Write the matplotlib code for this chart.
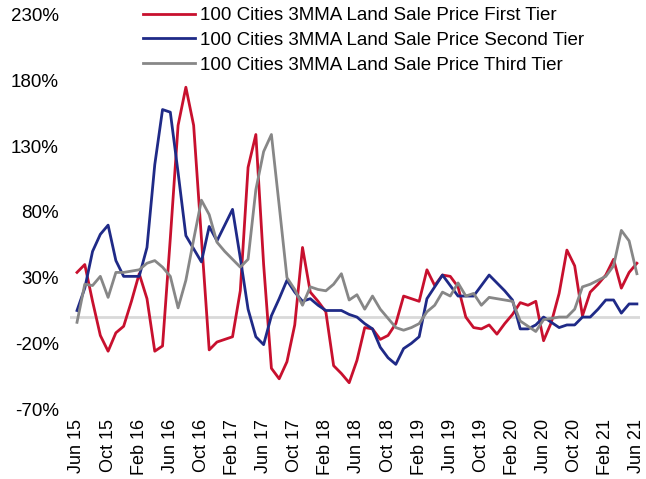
import numpy as np
import matplotlib
matplotlib.use("Agg")
import matplotlib.pyplot as plt
from matplotlib.ticker import FuncFormatter

plt.rcParams['font.family'] = ['Liberation Sans', 'DejaVu Sans']

# monthly values, Jun 15 .. Jun 21 (%)
first_tier = [34, 40, 12, -14, -26, -12, -7, 12, 33, 14, -26, -22,
              60, 146, 175, 146, 60, -25, -19, -17, -15, 20, 114, 139,
              40, -39, -47, -34, -6, 53, 19, 12, 4, -37, -43, -50,
              -33, -8, -9, -17, -14, -5, 16, 14, 12, 36, 24, 32,
              31, 23, 0, -8, -9, -6, -13, -5, 2, 11, 9, 12,
              -18, -4, 18, 51, 39, 1, 19, 25, 32, 44, 22, 34, 41]
second_tier = [5, 22, 50, 63, 70, 43, 31, 31, 31, 53, 116, 158,
               156, 110, 62, 52, 42, 69, 58, 70, 82, 45, 6, -15,
               -21, 1, 14, 28, 19, 12, 14, 9, 5, 5, 5, 2,
               0, -5, -9, -23, -31, -36, -24, -20, -15, 14, 23, 32,
               24, 16, 16, 16, 24, 32, 26, 20, 13, -9, -9, -6,
               0, -4, -8, -6, -6, 0, 0, 6, 13, 13, 3, 10, 10]
third_tier = [-4, 25, 24, 31, 15, 34, 34, 35, 36, 41, 43, 38,
              31, 7, 28, 59, 89, 78, 57, 50, 44, 38, 44, 97,
              126, 139, 85, 30, 21, 9, 23, 21, 20, 25, 33, 13,
              17, 6, 16, 6, -1, -8, -10, -8, -5, 4, 9, 19,
              16, 26, 16, 18, 9, 15, 14, 13, 12, -3, -7, -11,
              -2, -1, 0, 0, 6, 23, 25, 28, 31, 39, 66, 58, 33]

tick_labels = ["Jun 15", "Oct 15", "Feb 16", "Jun 16", "Oct 16", "Feb 17",
               "Jun 17", "Oct 17", "Feb 18", "Jun 18", "Oct 18", "Feb 19",
               "Jun 19", "Oct 19", "Feb 20", "Jun 20", "Oct 20", "Feb 21",
               "Jun 21"]
y_ticks = [-70, -20, 30, 80, 130, 180, 230]

labels = ["100 Cities 3MMA Land Sale Price First Tier",
          "100 Cities 3MMA Land Sale Price Second Tier",
          "100 Cities 3MMA Land Sale Price Third Tier"]
colors = ["#C8102E", "#1F2A87", "#878787"]
fs = 13.5

W, H = 646, 479
fig = plt.figure(figsize=(W / 100, H / 100), dpi=100)
ax = fig.add_axes([70 / W, (H - 409) / H, 570 / W, 394 / H])

x = np.arange(len(first_tier))
ax.axhline(0, color="#D9D9D9", linewidth=2, zorder=1)
for ys, c, lab in zip([first_tier, second_tier, third_tier], colors, labels):
    ax.plot(x, ys, color=c, linewidth=2.0, label=lab, zorder=2)

ax.set_xlim(-0.9, 72.4)
ax.set_ylim(-70, 230)
ax.set_xticks(np.arange(0, len(first_tier), 4))
ax.set_xticklabels(tick_labels, rotation=90, fontsize=13)
ax.set_yticks(y_ticks)
ax.yaxis.set_major_formatter(FuncFormatter(lambda v, p: f"{v:.0f}%"))
ax.tick_params(axis="y", labelsize=fs, length=0, pad=8)
ax.tick_params(axis="x", length=0, pad=7)
for s in ax.spines.values():
    s.set_visible(False)

fig.legend(loc="upper left", bbox_to_anchor=(143 / W, 1 - 7 / H),
           frameon=False, fontsize=fs, handlelength=2.77, handletextpad=0.27,
           labelspacing=0.41, borderpad=0, borderaxespad=0)

fig.savefig("out.png", dpi=100)
